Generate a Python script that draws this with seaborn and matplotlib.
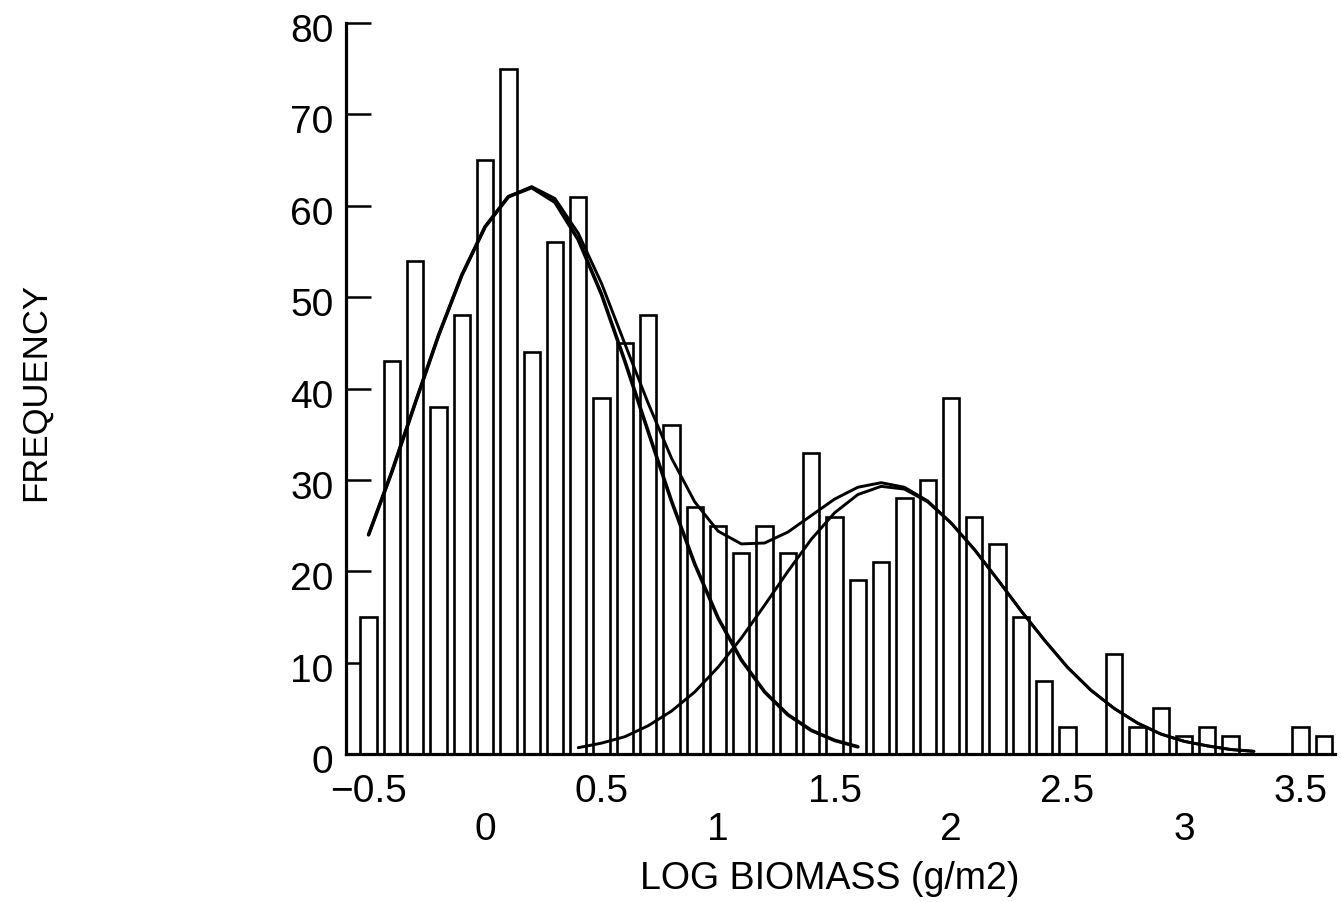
import numpy as np
import pandas as pd
import matplotlib
matplotlib.use("Agg")
import matplotlib.pyplot as plt
import matplotlib.transforms as mtransforms
import seaborn as sns
from matplotlib import font_manager

# Histogram of log biomass: bin centres (0.1 wide bins) and counts
bin_centers = np.round(np.arange(-0.5, 3.65, 0.1), 1)
frequency = [15, 43, 54, 38, 48, 65, 75, 44, 56, 61,
             39, 45, 48, 36, 27, 25, 22, 25, 22, 33,
             26, 19, 21, 28, 30, 39, 26, 23, 15, 8,
             3, 0, 11, 3, 5, 2, 3, 2, 0, 0,
             3, 2]

# Fitted curves: first component, second component and their sum
comp1_x = np.round(np.arange(-0.5, 1.65, 0.1), 1)
comp1_y = [24.0, 30.9, 38.4, 45.8, 52.4, 57.7, 61.0, 62.0, 60.4, 56.3,
           50.3, 43.0, 35.3, 27.7, 20.8, 14.9, 10.3, 6.8, 4.3, 2.6,
           1.5, 0.8]

comp2_x = np.round(np.arange(0.4, 3.35, 0.1), 1)
comp2_y = [0.7, 1.2, 1.9, 3.1, 4.7, 6.8, 9.5, 12.7, 16.3, 20.0,
           23.5, 26.4, 28.4, 29.3, 29.0, 27.6, 25.3, 22.4, 19.1, 15.7,
           12.5, 9.5, 7.0, 5.0, 3.4, 2.2, 1.4, 0.9, 0.5, 0.3]

mix_x = np.round(np.arange(-0.5, 3.35, 0.1), 1)
mix_y = [24.0, 30.9, 38.4, 45.8, 52.4, 57.7, 61.0, 62.1, 60.8, 57.0,
         51.5, 44.9, 38.4, 32.4, 27.6, 24.4, 23.0, 23.1, 24.3, 26.1,
         27.9, 29.2, 29.7, 29.2, 27.7, 25.3, 22.4, 19.1, 15.7, 12.5,
         9.5, 7.0, 5.0, 3.4, 2.2, 1.4, 0.9, 0.5, 0.3]

major_ticks = [-0.5, 0.5, 1.5, 2.5, 3.5]
major_labels = ["\u22120.5", "0.5", "1.5", "2.5", "3.5"]
minor_ticks = [0, 1, 2, 3]
minor_labels = ["0", "1", "2", "3"]
y_ticks = list(range(0, 81, 10))

sns.set_theme(style="white")


def pick_font(names):
    for n in names:
        try:
            font_manager.findfont(font_manager.FontProperties(family=n),
                                  fallback_to_default=False)
            return n
        except Exception:
            continue
    return "DejaVu Sans"


regular = pick_font(["Liberation Sans", "DejaVu Sans"])
plt.rcParams["font.family"] = [regular, "DejaVu Sans"]

df = pd.DataFrame({"log_biomass": bin_centers, "count": frequency})
edges = [round(-0.55 + 0.1 * i, 2) for i in range(len(bin_centers) + 1)]

fig = plt.figure(figsize=(13.41, 9.02), dpi=100)
ax = fig.add_axes([0.258, 0.164, 0.7375, 0.8104])

sns.histplot(data=df, x="log_biomass", weights="count", bins=edges,
             shrink=0.70, facecolor="white", edgecolor="black", linewidth=1.9,
             alpha=1.0, ax=ax)

for xs, ys, lw in [(comp1_x, comp1_y, 2.6), (comp2_x, comp2_y, 2.1), (mix_x, mix_y, 2.1)]:
    sns.lineplot(x=xs, y=ys, color="black", linewidth=lw, ax=ax,
                 estimator=None, sort=False, zorder=3)

ax.set_xlim(-0.597, 3.648)
ax.set_ylim(0, 80)
ax.set_axisbelow(True)

sns.despine(ax=ax)
for side in ["left", "bottom"]:
    ax.spines[side].set_linewidth(2.3)
    ax.spines[side].set_color("black")

ax.set_yticks(y_ticks)
ax.set_yticklabels([str(v) for v in y_ticks])
ax.tick_params(axis="y", direction="in", length=18, width=1.8, pad=9,
               labelsize=28, colors="black", left=True)
shift_down = mtransforms.ScaledTranslation(0, -5 / 100, fig.dpi_scale_trans)
for t in ax.get_yticklabels():
    t.set_transform(t.get_transform() + shift_down)

ax.set_xticks(major_ticks)
ax.set_xticklabels(major_labels)
ax.set_xticks(minor_ticks, minor=True)
ax.set_xticklabels(minor_labels, minor=True)
ax.tick_params(axis="x", which="major", length=0, pad=14.5, labelsize=28, colors="black")
ax.tick_params(axis="x", which="minor", length=0, pad=42, labelsize=28, colors="black")

ax.set_xlabel("LOG BIOMASS (g/m2)", fontsize=27, va="center", color="black")
ax.xaxis.set_label_coords(0.489, -0.171)
ax.set_ylabel("FREQUENCY", fontsize=25, va="center", color="black")
ax.yaxis.set_label_coords(-0.3145, 0.495)

fig.savefig("out.png", dpi=100, facecolor="white")
